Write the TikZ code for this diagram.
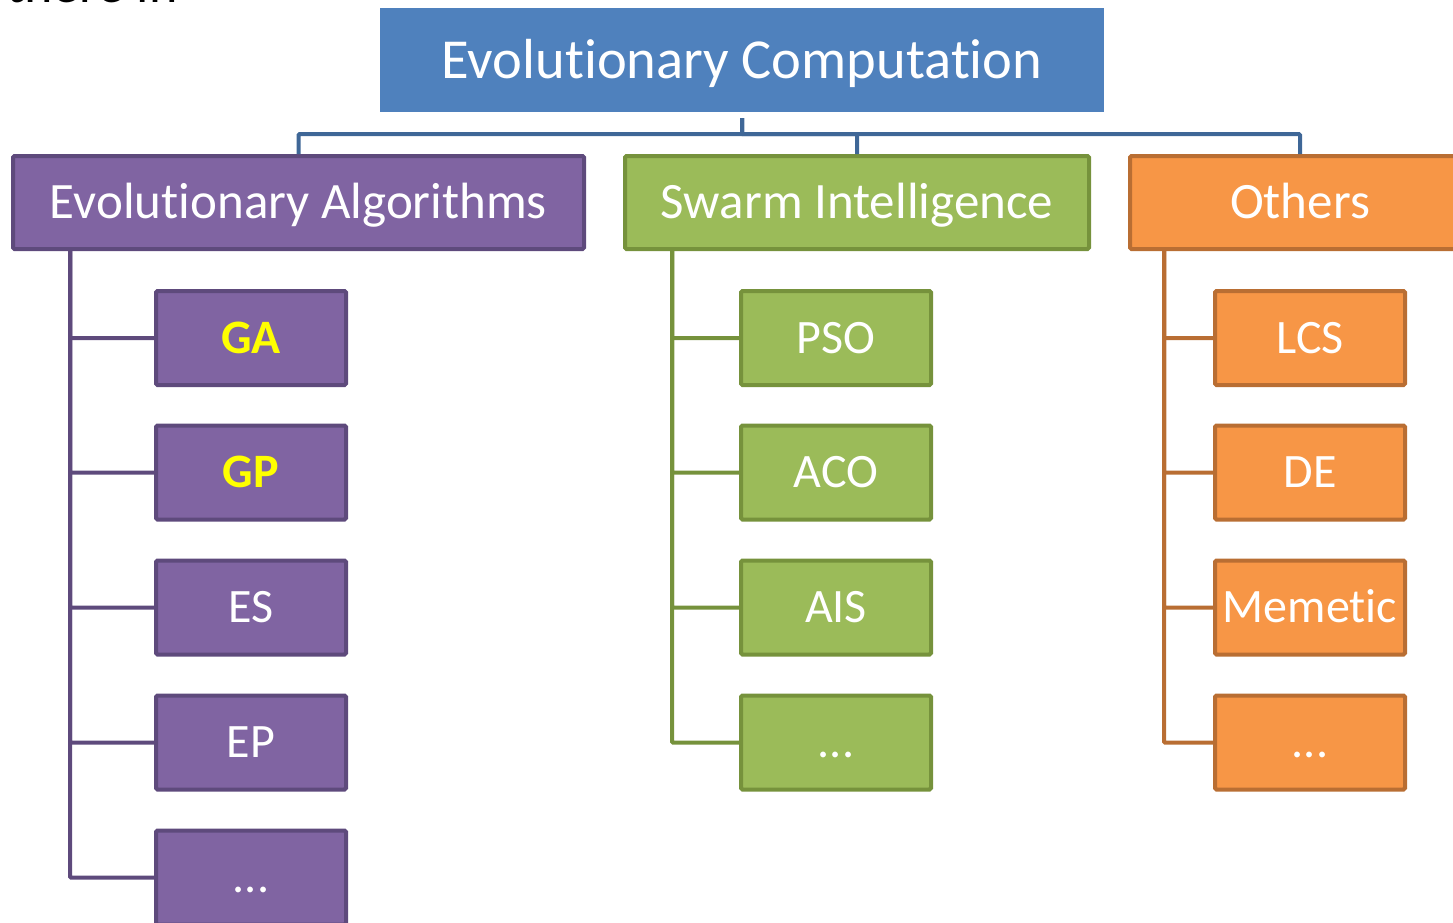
\documentclass[tikz,border=0pt]{standalone}
\usepackage{fontspec}
\setmainfont{Carlito}[Ligatures=NoCommon]
\begin{document}
\begin{tikzpicture}[x=1pt,y=-1pt,
  box/.style={draw, line width=4pt, rounded corners=1.5pt, inner sep=0pt, text=white, align=center, text depth=0pt},
  ecbox/.style={fill=ecfill, inner sep=0pt, text=white, text depth=0pt},
  eabox/.style={box, fill=eafill, draw=eaedge},
  sibox/.style={box, fill=sifill, draw=siedge},
  otbox/.style={box, fill=otfill, draw=otedge},
  topsz/.style={font=\fontsize{56.5}{64}\selectfont, text height=36.4pt},
  midsz/.style={font=\fontsize{51}{58}\selectfont, text height=32.8pt},
  leafsz/.style={font=\fontsize{48}{54}\selectfont, text height=30.9pt},
  head/.style={minimum height=93pt},
  leaf/.style={minimum width=190pt, minimum height=94pt, leafsz},
  hot/.style={text=hotyellow, font=\fontsize{48}{54}\selectfont\bfseries},
  bus/.style={draw=busline, line width=4pt, rounded corners=1pt},
  eaw/.style={draw=eaedge, line width=4pt, rounded corners=1pt},
  siw/.style={draw=siedge, line width=4pt, rounded corners=1pt},
  otw/.style={draw=otedge, line width=4pt, rounded corners=1pt}]
\definecolor{ecfill}{HTML}{4F81BD}
\definecolor{busline}{HTML}{3F6797}
\definecolor{eafill}{HTML}{8064A2}
\definecolor{eaedge}{HTML}{5E4A7C}
\definecolor{sifill}{HTML}{9BBB59}
\definecolor{siedge}{HTML}{76923C}
\definecolor{otfill}{HTML}{F79646}
\definecolor{otedge}{HTML}{B96E33}
\definecolor{hotyellow}{HTML}{FFFF00}
\useasboundingbox (0,0) rectangle (1453,923);
\clip (0,0) rectangle (1453,923);

% slide text running above the chart
\node[anchor=base west, inner sep=0pt, font=\fontsize{54}{60}\selectfont] (caption) at (6,3) {there in};

% root
\node[ecbox, topsz, minimum width=724pt, minimum height=104pt] (ec) at (742,60) {Evolutionary Computation};

% families
\node[eabox, midsz, head, minimum width=571pt] (ea) at (298.5,202.5) {Evolutionary Algorithms};
\node[sibox, midsz, head, minimum width=464pt] (si) at (857,202.5) {Swarm Intelligence};
\node[otbox, midsz, head, minimum width=340pt] (ot) at (1300,202.5) {Others};

% bus from the root to the families
\coordinate (tap) at ([yshift=-6pt]ec.south);
\draw[bus] (tap) -- ++(0,16) -| (ea.north);
\draw[bus] (tap) -- ++(0,16) -| (si.north);
\draw[bus] (tap) -- ++(0,16) -| (ot.north);

% evolutionary algorithms
\node[eabox, leaf, hot] (ga) at (251,338) {GA};
\node[eabox, leaf, hot] (gp) at (251,472.5) {GP};
\node[eabox, leaf] (es) at (251,607.5) {ES};
\node[eabox, leaf] (ep) at (251,742.5) {EP};
\node[eabox, leaf] (eamore) at (251,877.5) {...};

% swarm intelligence
\node[sibox, leaf] (pso) at (836,338) {PSO};
\node[sibox, leaf] (aco) at (836,472.5) {ACO};
\node[sibox, leaf] (ais) at (836,607.5) {AIS};
\node[sibox, leaf] (simore) at (836,742.5) {...};

% others
\node[otbox, leaf] (lcs) at (1310,338) {LCS};
\node[otbox, leaf] (de) at (1310,472.5) {DE};
\node[otbox, leaf] (mem) at (1310,607.5) {Memetic};
\node[otbox, leaf] (otmore) at (1310,742.5) {...};

% trunks and branches
\coordinate (eat) at ([xshift=59pt]ea.south west);
\foreach \n in {ga,gp,es,ep,eamore} \draw[eaw] (eat) |- (\n.west);
\coordinate (sit) at ([xshift=49pt]si.south west);
\foreach \n in {pso,aco,ais,simore} \draw[siw] (sit) |- (\n.west);
\coordinate (ott) at ([xshift=36pt]ot.south west);
\foreach \n in {lcs,de,mem,otmore} \draw[otw] (ott) |- (\n.west);
\end{tikzpicture}
\end{document}
